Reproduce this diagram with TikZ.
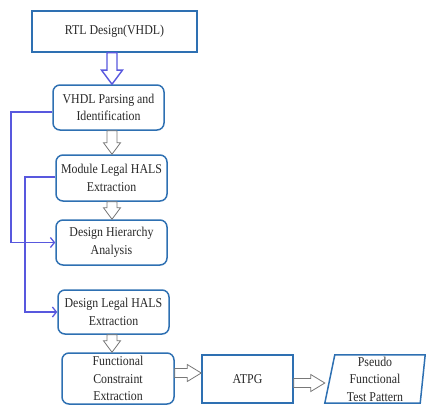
\documentclass[tikz,border=0pt]{standalone}
\usepackage{fontspec}
\setmainfont{Liberation Serif}[FakeStretch=0.88]
\usetikzlibrary{arrows.meta,calc}
\definecolor{boxblue}{RGB}{46,112,178}
\definecolor{linkblue}{RGB}{88,88,222}
\definecolor{arrowgray}{RGB}{120,120,120}
\definecolor{txt}{RGB}{40,40,40}
\tikzset{
  flowbox/.style={draw=boxblue, line width=1.5pt, rounded corners=7pt, align=center,
    text=txt, font=\fontsize{13.5}{17.5}\selectfont, inner sep=0pt},
  sharpbox/.style={flowbox, rounded corners=0pt},
  link/.style={draw=linkblue, line width=1.3pt, -{Straight Barb[length=4pt,width=10pt,line width=1.3pt]}},
  hollow/.style={draw=arrowgray, line width=0.8pt, fill=white},
  hollowblue/.style={draw=linkblue, line width=1.4pt, fill=white},
}
% hollow block arrow pointing down from node #2 to node #3
\newcommand{\downblock}[5]{% style, from, to, shaft half width, head half width
  \path[#1] let \p1=(#2.south), \p2=(#3.north) in
    (112pt-#4,\y1) -- (112pt+#4,\y1) -- (112pt+#4,\y2+#5+#5*0.35) -- (112pt+#5,\y2+#5+#5*0.35)
    -- (112pt,\y2) -- (112pt-#5,\y2+#5+#5*0.35) -- (112pt-#4,\y2+#5+#5*0.35) -- cycle;}
% hollow block arrow pointing right from node #1 to node #2 at height #3
\newcommand{\rightblock}[3]{%
  \path[hollow] let \p1=(#1.east), \p2=(#2.west) in
    (\x1,#3+4.5) -- (\x2-14,#3+4.5) -- (\x2-14,#3+8.5) -- (\x2,#3)
    -- (\x2-14,#3-8.5) -- (\x2-14,#3-4.5) -- (\x1,#3-4.5) -- cycle;}
\begin{document}
\begin{tikzpicture}[x=1pt,y=-1pt]
\useasboundingbox (0,0) rectangle (426,405);

\node[sharpbox, minimum width=165pt, minimum height=41pt] (rtl) at (114.5,31.5) {RTL Design(VHDL)};
\node[flowbox, minimum width=111pt, minimum height=45pt] (parse) at (108.5,107.5) {VHDL Parsing and\\Identification};
\node[flowbox, minimum width=111pt, minimum height=46pt] (module) at (111.5,178) {Module Legal HALS\\Extraction};
\node[flowbox, minimum width=111pt, minimum height=45pt] (hier) at (111.5,242.5) {Design Hierarchy\\Analysis};
\node[flowbox, minimum width=111pt, minimum height=44pt] (legal) at (113.5,312) {Design Legal HALS\\Extraction};
\node[flowbox, minimum width=112pt, minimum height=51pt] (func) at (118,378.5) {Functional\\Constraint\\Extraction};
\node[sharpbox, minimum width=91pt, minimum height=48pt] (atpg) at (247.5,379) {ATPG};
\node[align=center, text=txt, font=\fontsize{13.5}{17.5}\selectfont, inner sep=0pt,
      minimum width=100pt, minimum height=48pt] (pseudo) at (375,379) {Pseudo\\Functional\\Test Pattern};
\draw[boxblue, line width=1.5pt] (pseudo.south west) -- ([xshift=10pt]pseudo.north west)
  -- (pseudo.north east) -- ([xshift=-5pt]pseudo.south east) -- cycle;

% block arrows down the main flow
\downblock{hollowblue}{rtl}{parse}{5pt}{10.5pt}
\downblock{hollow}{parse}{module}{5pt}{8.5pt}
\downblock{hollow}{module}{hier}{5pt}{8.5pt}
\downblock{hollow}{legal}{func}{5pt}{8.5pt}

% block arrows along the bottom row
\rightblock{func}{atpg}{373}
\rightblock{atpg}{pseudo}{383}

% feedback links on the left
\coordinate (k1) at (11,112);
\coordinate (k2) at (11,242.5);
\coordinate (k3) at (25,177);
\coordinate (k4) at (25,312);
\draw[link] (parse.west |- k1) -- (k1) -- (k2) -- (hier.west);
\draw[link] (module.west |- k3) -- (k3) -- (k4) -- (legal.west);
\end{tikzpicture}
\end{document}
